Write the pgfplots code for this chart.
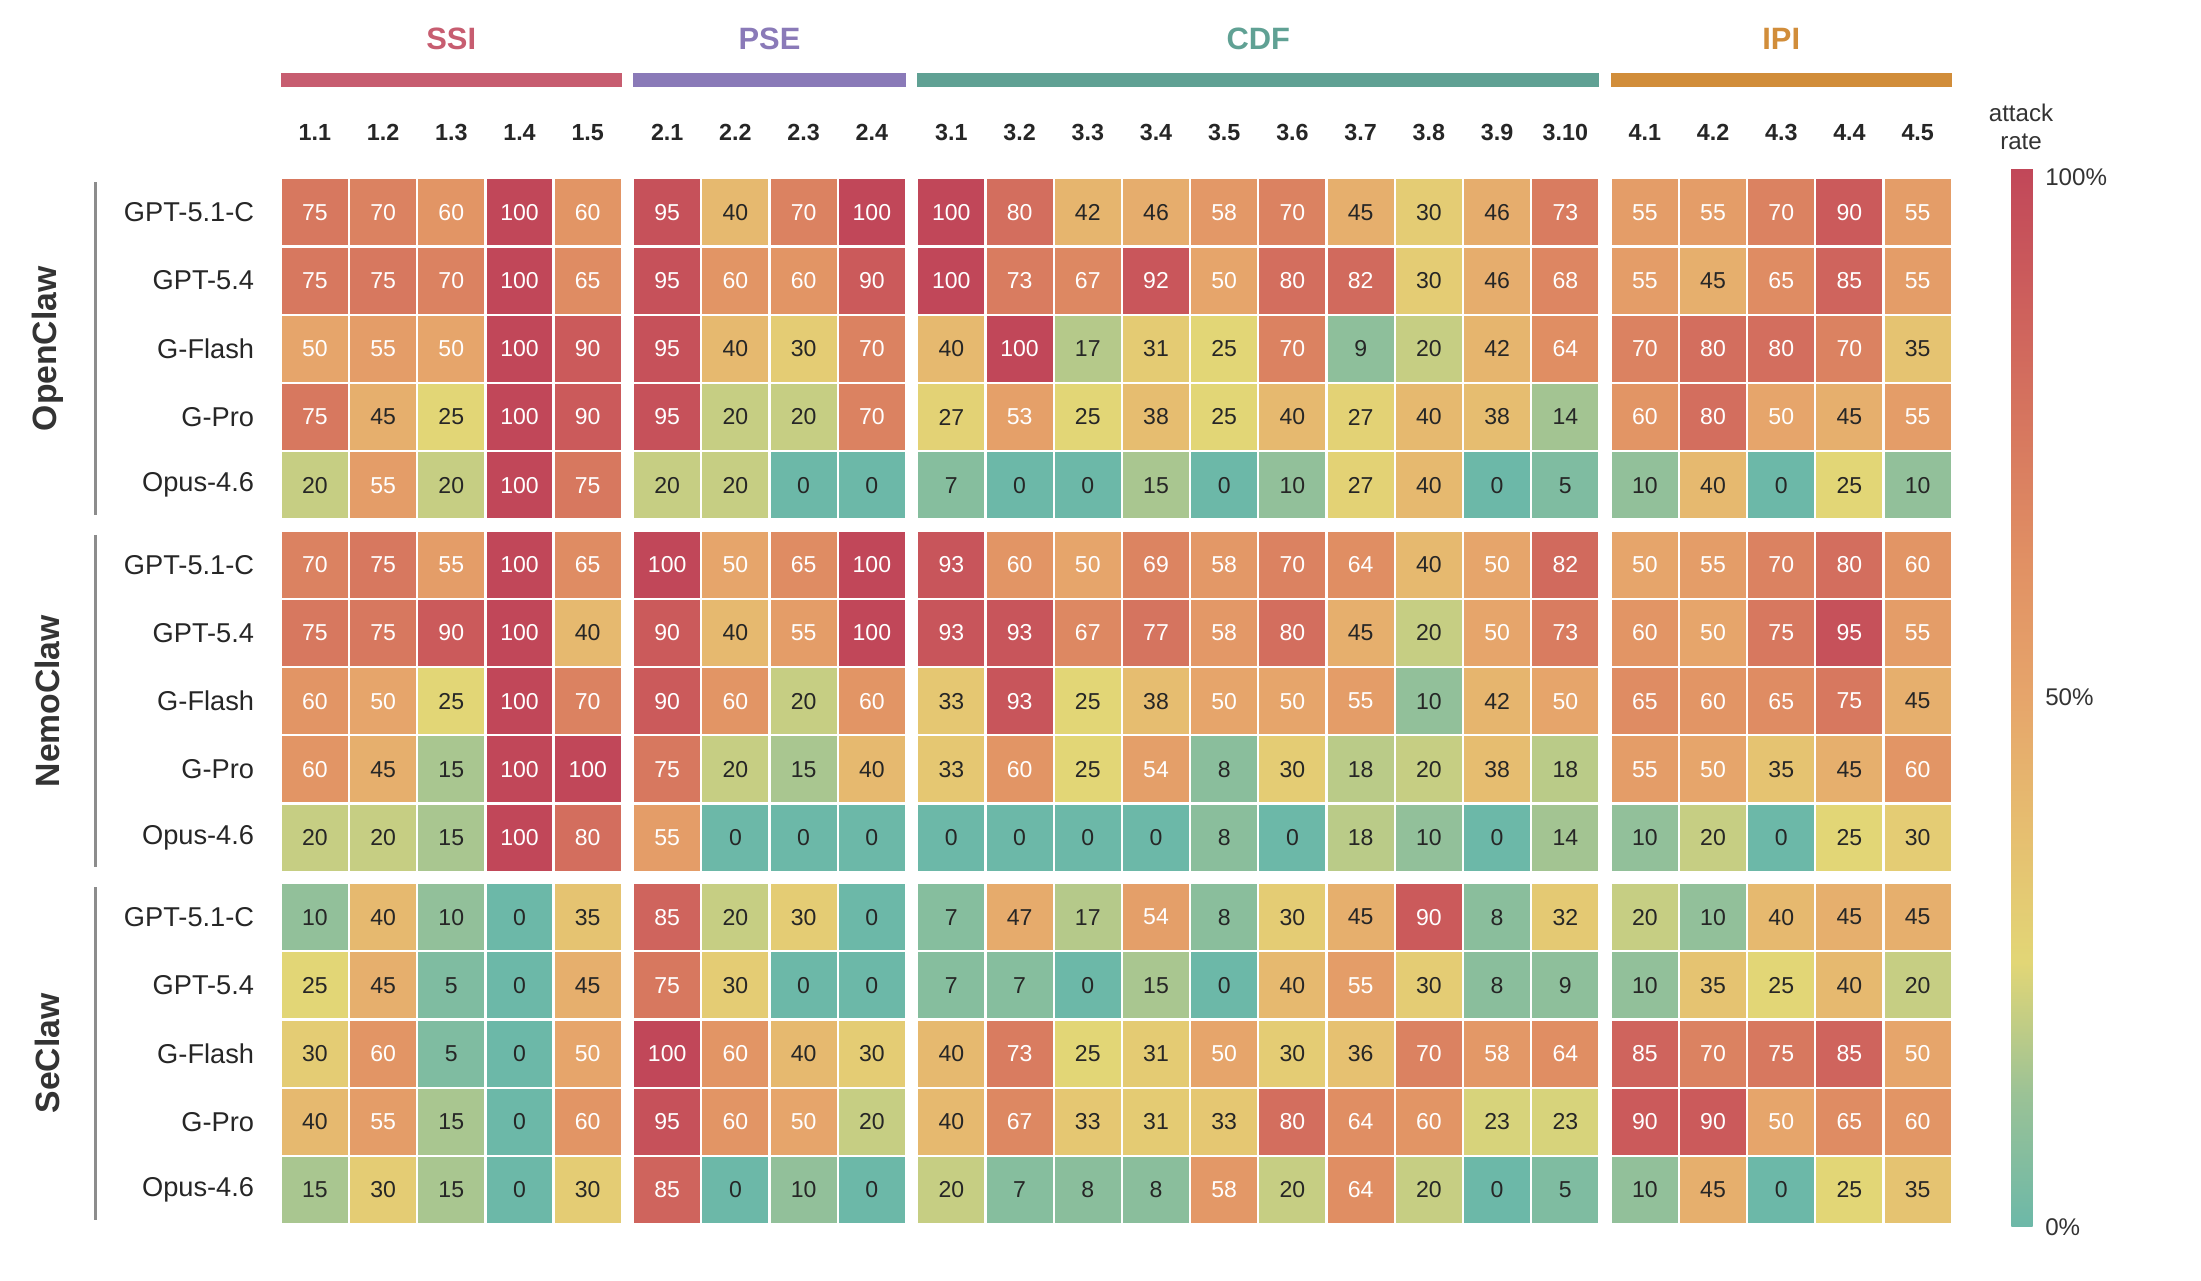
\documentclass[border=0pt]{standalone}
\usepackage{pgfplots}
\pgfplotsset{compat=1.18}
\usepackage{pgfplotstable}
\usepackage{fontspec}
\setmainfont{Liberation Sans}
\definecolor{txt}{RGB}{38,38,38}
\definecolor{lab}{RGB}{51,51,51}
\definecolor{cssi}{RGB}{199,93,112}
\definecolor{cpse}{RGB}{138,122,184}
\definecolor{ccdf}{RGB}{96,161,148}
\definecolor{cipi}{RGB}{209,141,58}
\definecolor{gline}{RGB}{140,140,140}
\newcommand\gp{0.165}

% columns: SSI 1.1-1.5 | PSE 2.1-2.4 | CDF 3.1-3.10 | IPI 4.1-4.5
% rows: GPT-5.1-C, GPT-5.4, G-Flash, G-Pro, Opus-4.6
\pgfplotstableread{
c1 c2 c3 c4 c5 c6 c7 c8 c9 c10 c11 c12 c13 c14 c15 c16 c17 c18 c19 c20 c21 c22 c23 c24
75 70 60 100 60 95 40 70 100 100 80 42 46 58 70 45 30 46 73 55 55 70 90 55
75 75 70 100 65 95 60 60 90 100 73 67 92 50 80 82 30 46 68 55 45 65 85 55
50 55 50 100 90 95 40 30 70 40 100 17 31 25 70 9 20 42 64 70 80 80 70 35
75 45 25 100 90 95 20 20 70 27 53 25 38 25 40 27 40 38 14 60 80 50 45 55
20 55 20 100 75 20 20 0 0 7 0 0 15 0 10 27 40 0 5 10 40 0 25 10
}\openclaw
\pgfplotstableread{
c1 c2 c3 c4 c5 c6 c7 c8 c9 c10 c11 c12 c13 c14 c15 c16 c17 c18 c19 c20 c21 c22 c23 c24
70 75 55 100 65 100 50 65 100 93 60 50 69 58 70 64 40 50 82 50 55 70 80 60
75 75 90 100 40 90 40 55 100 93 93 67 77 58 80 45 20 50 73 60 50 75 95 55
60 50 25 100 70 90 60 20 60 33 93 25 38 50 50 55 10 42 50 65 60 65 75 45
60 45 15 100 100 75 20 15 40 33 60 25 54 8 30 18 20 38 18 55 50 35 45 60
20 20 15 100 80 55 0 0 0 0 0 0 0 8 0 18 10 0 14 10 20 0 25 30
}\nemoclaw
\pgfplotstableread{
c1 c2 c3 c4 c5 c6 c7 c8 c9 c10 c11 c12 c13 c14 c15 c16 c17 c18 c19 c20 c21 c22 c23 c24
10 40 10 0 35 85 20 30 0 7 47 17 54 8 30 45 90 8 32 20 10 40 45 45
25 45 5 0 45 75 30 0 0 7 7 0 15 0 40 55 30 8 9 10 35 25 40 20
30 60 5 0 50 100 60 40 30 40 73 25 31 50 30 36 70 58 64 85 70 75 85 50
40 55 15 0 60 95 60 50 20 40 67 33 31 33 80 64 60 23 23 90 90 50 65 60
15 30 15 0 30 85 0 10 0 20 7 8 8 58 20 64 20 0 5 10 45 0 25 35
}\seclaw

\newcommand\plotgroup[2]{%
 \pgfplotsinvokeforeach{1,...,24}{%
  \addplot[scatter, only marks, mark=square*, mark size=12.15pt,
    point meta=explicit,
    scatter/use mapped color={draw=white, fill=mapped color, line width=0.8pt}]
   table[x expr={##1-1+\gp*((##1>5)+(##1>9)+(##1>19))}, y expr={\coordindex+#2}, meta=c##1]{#1};
  \addplot[only marks, mark=*, mark size=0pt, mark options={draw=none, fill=none},
    point meta=explicit,
    visualization depends on={\thisrow{c##1}\as\cellval},
    nodes near coords={\pgfmathtruncatemacro\iv{\cellval}\ifnum\iv<50 \color{txt}\else\color{white}\fi\iv},
    every node near coord/.append style={anchor=center, font=\fontsize{8.2}{9}\selectfont}]
   table[x expr={##1-1+\gp*((##1>5)+(##1>9)+(##1>19))}, y expr={\coordindex+#2}, meta=c##1]{#1};
 }}
\newcommand\collab[2]{\node[font=\bfseries\fontsize{8.3}{10}\selectfont, text=txt] at (axis cs:#1,-1.17) {#2};}
\newcommand\rowlab[2]{\node[anchor=east, font=\fontsize{9.7}{11}\selectfont, text=txt] at (axis cs:-0.745,#1) {#2};}
\newcommand\rowgroup[1]{%
 \rowlab{#1}{GPT-5.1-C}\rowlab{#1+1}{GPT-5.4}\rowlab{#1+2}{G-Flash}\rowlab{#1+3}{G-Pro}\rowlab{#1+4}{Opus-4.6}}

\begin{document}
\begin{tikzpicture}
\begin{axis}[
  scale only axis, width=595.23pt, height=372.52pt,
  xmin=-0.5, xmax=23.995, ymin=-0.5, ymax=14.83, y dir=reverse,
  hide axis, clip=false, enlargelimits=false,
  colormap={attack}{rgb255=(108,184,168) rgb255=(155,194,150) rgb255=(226,214,118) rgb255=(230,190,112) rgb255=(230,165,107) rgb255=(225,145,100) rgb255=(215,120,95) rgb255=(205,95,92) rgb255=(193,71,89)},
  point meta min=0, point meta max=100,
  colorbar,
  colorbar shift/.style={xshift=21.25pt, yshift=3.5pt},
  colorbar style={
    at={(parent axis.north east)}, anchor=north west,
    scale only axis, width=7.5pt, height=377pt,
    ytick={0,50,99.2}, yticklabels={0\%,50\%,100\%},
    major tick length=0pt,
    axis line style={draw=none},
    yticklabel style={font=\fontsize{8.6}{10}\selectfont, text=lab, xshift=1pt},
  },
]
\plotgroup{\openclaw}{0}
\plotgroup{\nemoclaw}{5.165}
\plotgroup{\seclaw}{10.33}

% category bars and titles
\fill[cssi] (axis cs:-0.5,-2.043) rectangle (axis cs:4.5,-1.837);
\fill[cpse] (axis cs:4.665,-2.043) rectangle (axis cs:8.665,-1.837);
\fill[ccdf] (axis cs:8.83,-2.043) rectangle (axis cs:18.83,-1.837);
\fill[cipi] (axis cs:18.995,-2.043) rectangle (axis cs:23.995,-1.837);
\node[font=\bfseries\fontsize{11}{13}\selectfont, text=cssi] at (axis cs:2,-2.55) {SSI};
\node[font=\bfseries\fontsize{11}{13}\selectfont, text=cpse] at (axis cs:6.665,-2.55) {PSE};
\node[font=\bfseries\fontsize{11}{13}\selectfont, text=ccdf] at (axis cs:13.83,-2.55) {CDF};
\node[font=\bfseries\fontsize{11}{13}\selectfont, text=cipi] at (axis cs:21.495,-2.55) {IPI};

% column labels
\collab{0}{1.1}\collab{1}{1.2}\collab{2}{1.3}\collab{3}{1.4}\collab{4}{1.5}
\collab{5.165}{2.1}\collab{6.165}{2.2}\collab{7.165}{2.3}\collab{8.165}{2.4}
\collab{9.33}{3.1}\collab{10.33}{3.2}\collab{11.33}{3.3}\collab{12.33}{3.4}\collab{13.33}{3.5}
\collab{14.33}{3.6}\collab{15.33}{3.7}\collab{16.33}{3.8}\collab{17.33}{3.9}\collab{18.33}{3.10}
\collab{19.495}{4.1}\collab{20.495}{4.2}\collab{21.495}{4.3}\collab{22.495}{4.4}\collab{23.495}{4.5}

% row labels
\rowgroup{0}
\rowgroup{5.165}
\rowgroup{10.33}

% group brackets and labels
\draw[gline, line width=1pt] (axis cs:-3.216,-0.438) -- (axis cs:-3.216,4.438);
\draw[gline, line width=1pt] (axis cs:-3.216,4.727) -- (axis cs:-3.216,9.603);
\draw[gline, line width=1pt] (axis cs:-3.216,9.892) -- (axis cs:-3.216,14.768);
\node[rotate=90, font=\bfseries\fontsize{12}{14}\selectfont, text=lab] at (axis cs:-3.92,2) {OpenClaw};
\node[rotate=90, font=\bfseries\fontsize{12}{14}\selectfont, text=lab] at (axis cs:-3.92,7.165) {NemoClaw};
\node[rotate=90, font=\bfseries\fontsize{12}{14}\selectfont, text=lab] at (axis cs:-3.92,12.33) {SeClaw};

% colorbar title
\node[align=center, font=\fontsize{8.6}{10}\selectfont, text=lab] at (axis cs:25.01,-1.25) {attack\\rate};

% picture extent
\path (axis cs:-4.615,-3.113) rectangle (axis cs:27.648,15.652);
\end{axis}
\end{tikzpicture}
\end{document}
